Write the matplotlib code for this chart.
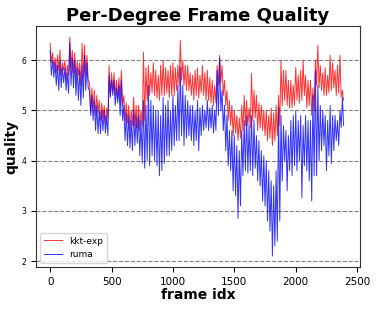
import numpy as np
import matplotlib
matplotlib.use("Agg")
import matplotlib.pyplot as plt

# per 20-frame bin: upper and lower envelope of each series
kkt_hi = [6.34, 6.15, 6.05, 6.10, 6.20, 5.95, 6.00, 5.90, 6.46, 6.20,
          6.15, 6.00, 5.95, 6.34, 6.30, 6.10, 5.56, 5.45, 5.40, 5.30,
          5.20, 5.15, 5.10, 5.05, 5.90, 5.75, 5.75, 5.60, 5.65, 5.80,
          5.30, 5.15, 5.10, 5.00, 5.26, 5.10, 5.10, 5.00, 6.16, 5.85,
          5.90, 5.75, 5.95, 5.80, 5.70, 5.90, 6.00, 5.85, 5.80, 5.90,
          5.95, 5.85, 5.90, 6.40, 6.00, 5.90, 5.90, 5.75, 5.70, 5.80,
          5.85, 5.70, 5.90, 5.75, 5.80, 5.65, 5.60, 5.50, 5.90, 6.10,
          5.90, 5.60, 5.40, 5.20, 5.10, 5.00, 4.90, 4.85, 5.10, 5.30,
          5.20, 5.05, 5.74, 5.40, 5.30, 5.15, 5.10, 5.00, 5.00, 4.90,
          5.05, 4.95, 5.10, 5.30, 6.00, 5.80, 5.80, 5.60, 5.60, 5.50,
          5.86, 5.70, 5.80, 6.00, 5.70, 5.60, 5.60, 5.45, 6.00, 6.30,
          5.90, 5.75, 5.85, 5.70, 6.10, 5.95, 5.80, 5.90, 6.10, 5.40]
kkt_lo = [5.95, 5.85, 5.75, 5.80, 5.70, 5.80, 5.60, 5.70, 5.85, 5.75,
          5.60, 5.70, 5.50, 5.65, 5.70, 5.60, 5.00, 5.05, 4.90, 4.95,
          4.80, 4.85, 4.75, 4.85, 5.30, 5.40, 5.30, 5.25, 5.20, 5.10,
          4.80, 4.75, 4.60, 4.70, 4.70, 4.65, 4.60, 4.70, 4.80, 5.20,
          5.30, 5.35, 5.30, 5.25, 5.20, 5.30, 5.30, 5.35, 5.25, 5.30,
          5.30, 5.40, 5.50, 5.60, 5.50, 5.40, 5.40, 5.30, 5.20, 5.30,
          5.25, 5.35, 5.30, 5.20, 5.20, 5.15, 5.10, 5.15, 5.50, 5.55,
          5.30, 5.10, 4.80, 4.70, 4.50, 4.55, 4.40, 4.45, 4.60, 4.70,
          4.70, 4.65, 4.80, 4.85, 4.60, 4.65, 4.60, 4.50, 4.40, 4.45,
          4.30, 4.40, 4.50, 4.70, 5.10, 5.20, 5.10, 5.05, 5.05, 5.10,
          5.20, 5.15, 5.20, 5.30, 5.05, 5.10, 4.90, 5.00, 5.50, 5.45,
          5.40, 5.30, 5.30, 5.35, 5.40, 5.45, 5.30, 5.35, 5.26, 5.20]
ruma_hi = [6.20, 6.00, 5.95, 5.90, 6.00, 5.85, 5.85, 5.75, 6.35, 6.05,
           6.00, 5.85, 5.80, 5.90, 6.10, 5.95, 5.40, 5.30, 5.20, 5.10,
           5.00, 5.00, 5.00, 4.90, 5.70, 5.60, 5.60, 5.45, 5.50, 5.60,
           5.10, 4.95, 4.90, 4.80, 5.00, 4.90, 4.90, 4.80, 5.20, 5.10,
           5.50, 5.20, 5.10, 5.00, 5.00, 4.90, 5.26, 5.10, 5.20, 5.00,
           5.30, 5.10, 5.50, 5.86, 5.50, 5.30, 5.20, 5.10, 5.10, 5.00,
           5.20, 5.05, 5.10, 5.00, 5.20, 5.05, 5.10, 5.00, 5.80, 6.04,
           5.40, 5.10, 4.90, 4.60, 4.60, 4.50, 4.30, 4.20, 4.60, 4.80,
           4.90, 4.70, 4.90, 4.80, 4.50, 4.40, 4.20, 4.10, 4.00, 3.80,
           3.60, 3.50, 3.80, 5.06, 4.90, 4.70, 4.60, 4.50, 4.80, 4.90,
           5.00, 4.80, 4.90, 4.70, 4.90, 4.80, 4.80, 5.30, 5.80, 5.50,
           5.10, 5.00, 4.90, 4.80, 5.10, 4.90, 4.90, 4.80, 5.00, 5.26]
ruma_lo = [5.70, 5.66, 5.50, 5.40, 5.46, 5.55, 5.40, 5.34, 5.50, 5.45,
           5.30, 5.20, 5.10, 5.25, 5.40, 5.45, 4.90, 4.80, 4.60, 4.54,
           4.54, 4.60, 4.55, 4.50, 5.26, 5.30, 5.10, 5.15, 4.90, 4.80,
           4.40, 4.30, 4.25, 4.20, 4.30, 4.35, 4.10, 3.95, 3.85, 4.00,
           3.90, 4.10, 4.00, 3.90, 3.70, 3.80, 3.95, 4.10, 4.10, 4.20,
           4.30, 4.40, 4.40, 4.50, 4.30, 4.45, 4.50, 4.40, 4.30, 4.40,
           4.20, 4.50, 4.60, 4.65, 4.60, 4.65, 4.55, 4.60, 4.90, 5.00,
           4.60, 4.20, 3.90, 3.80, 3.40, 3.30, 2.85, 3.10, 3.70, 3.80,
           3.75, 3.80, 3.70, 3.85, 3.60, 3.50, 3.20, 3.10, 2.80, 2.60,
           2.10, 2.30, 2.40, 2.80, 3.60, 4.00, 3.40, 3.80, 3.70, 3.90,
           3.80, 4.00, 3.26, 3.90, 3.80, 3.60, 3.20, 3.70, 3.70, 4.00,
           4.20, 4.30, 3.80, 4.10, 3.94, 4.20, 4.40, 4.30, 4.66, 4.70]

def interleave(hi, lo):
    out = []
    for h, l in zip(hi, lo):
        out += [h, l]
    return np.array(out)

kkt = interleave(kkt_hi, kkt_lo)
ruma = interleave(ruma_hi, ruma_lo)
frames = np.arange(len(kkt)) * 10

fig = plt.figure(figsize=(3.82, 3.11), dpi=100)
ax = fig.add_axes([0.094, 0.141, 0.848, 0.775])

ax.plot(frames, kkt, color="red", lw=0.7, alpha=0.8, label="kkt-exp")
ax.plot(frames, ruma, color="blue", lw=0.7, alpha=0.8, label="ruma")

ax.set_xlim(-116, 2522)
ax.set_ylim(1.88, 6.68)
ax.set_yticks([2, 3, 4, 5, 6])
ax.set_xticks([0, 500, 1000, 1500, 2000, 2500])
ax.yaxis.grid(True, linestyle="--", color="gray", lw=0.8)
ax.set_axisbelow(True)
ax.tick_params(axis="x", labelsize=7.5)
ax.tick_params(axis="y", labelsize=5.5)
for s in ax.spines.values():
    s.set_color("#333333")

ax.set_title("Per-Degree Frame Quality", fontsize=13, fontweight="bold", pad=4)
ax.set_xlabel("frame idx", fontsize=10, fontweight="bold", labelpad=1)
ax.set_ylabel("quality", fontsize=10, fontweight="bold", labelpad=2)
ax.legend(loc="lower left", fontsize=6.5)

fig.savefig("out.png", dpi=100)
